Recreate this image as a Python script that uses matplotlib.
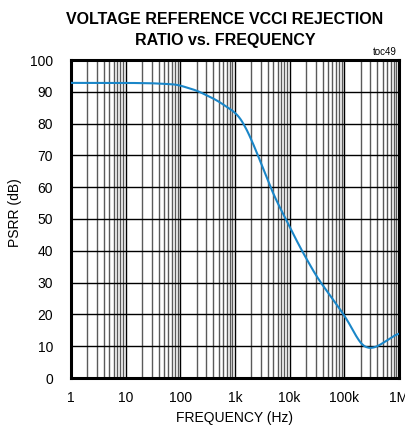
import numpy as np
import matplotlib
matplotlib.use("Agg")
import matplotlib.pyplot as plt
from matplotlib.ticker import LogLocator, NullFormatter, FixedLocator

plt.rcParams['font.family'] = ['Liberation Sans', 'DejaVu Sans']

# PSRR curve
freq = [1, 3, 10, 30, 86, 200, 460, 1070, 1400, 2000, 2850, 4000, 5600, 8700,
        15000, 31000, 60000, 95000, 140000, 192000, 240000, 294000, 360000,
        450000, 600000, 800000, 1000000]
psrr = [92.8, 92.8, 92.8, 92.7, 92.3, 90.4, 87.4, 83.2, 80.5, 75.0, 68.5,
        62.0, 56.0, 49.7, 41.5, 31.9, 25.0, 20.3, 15.5, 10.9, 9.6, 9.3, 9.5,
        10.4, 11.8, 13.2, 14.2]

xticks = [1, 10, 100, 1e3, 1e4, 1e5, 1e6]
xlabels = ['1', '10', '100', '1k', '10k', '100k', '1M']
yticks = list(range(0, 101, 10))

fig = plt.figure(figsize=(4.05, 4.28), dpi=100)
ax = fig.add_axes([71/405, 50/428, 328/405, 318/428])

# smooth in log space
lf = np.log10(freq)
lx = np.linspace(lf[0], lf[-1], 400)
ly = np.interp(lx, lf, psrr)
k = 7
ly_s = np.convolve(np.pad(ly, k, mode='edge'), np.ones(2*k+1)/(2*k+1), mode='same')[k:-k]
ax.plot(10**lx, ly_s, color='#1a86c8', lw=1.5, zorder=3)

ax.set_xscale('log')
ax.set_xlim(1, 1e6)
ax.set_ylim(0, 100)
ax.xaxis.set_major_locator(FixedLocator(xticks))
ax.set_xticklabels(xlabels)
ax.xaxis.set_minor_locator(LogLocator(base=10, subs=np.arange(2, 10), numticks=20))
ax.xaxis.set_minor_formatter(NullFormatter())
ax.set_yticks(yticks)

ax.grid(which='major', axis='both', color='black', lw=1.0)
ax.grid(which='minor', axis='x', color='#5a5a5a', lw=1.0)
ax.tick_params(which='both', length=0, labelsize=10)
ax.tick_params(axis='x', pad=9)
ax.tick_params(axis='y', pad=13)
for s in ax.spines.values():
    s.set_linewidth(2.2)

ax.set_xlabel('FREQUENCY (Hz)', fontsize=10, labelpad=5)
ax.set_ylabel('PSRR (dB)', fontsize=10)
ax.yaxis.set_label_coords(-0.148, 0.52)

fig.text(225/405, 1 - 19/428, 'VOLTAGE REFERENCE VCCI REJECTION', ha='center', va='center',
         fontsize=11.5, fontweight='bold')
fig.text(225/405, 1 - 40/428, 'RATIO vs. FREQUENCY', ha='center', va='center',
         fontsize=11.5, fontweight='bold')
fig.text(397/405, 1 - 52/428, 'toc49', ha='right', va='center', fontsize=7)

fig.savefig('out.png', dpi=100)
